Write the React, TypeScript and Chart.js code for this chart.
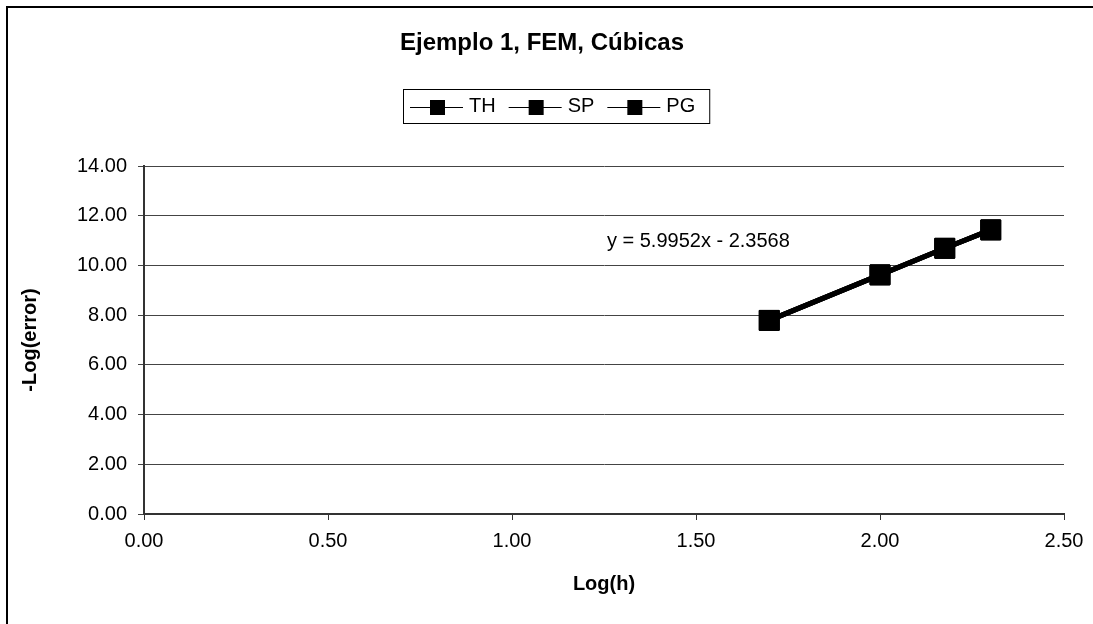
import React, { useEffect, useRef } from "react";
import { Chart, registerables } from "chart.js";

Chart.register(...registerables);

const chartTitle = "Ejemplo 1, FEM, Cúbicas";
const xAxisTitle = "Log(h)";
const yAxisTitle = "-Log(error)";
const seriesNames = ["TH", "SP", "PG"];
const logH = [1.699, 2.0, 2.176, 2.301];
const thValues = [7.79, 9.62, 10.69, 11.43];
const spValues = [7.79, 9.62, 10.69, 11.43];
const pgValues = [7.79, 9.62, 10.69, 11.43];
const xTicks = [0, 0.5, 1.0, 1.5, 2.0, 2.5];
const yTicks = [0, 2, 4, 6, 8, 10, 12, 14];
const trendLabel = "y = 5.9952x - 2.3568";
const trendLabelAt = { x: 1.258, y: 10.98 };

const FONT = "'Liberation Sans', Arial, Helvetica, sans-serif";

const decorPlugin = {
  id: "decor",
  beforeDraw(chart: any) {
    const ctx = chart.ctx;
    ctx.save();
    ctx.fillStyle = "#ffffff";
    ctx.fillRect(0, 0, chart.width, chart.height);
    ctx.strokeStyle = "#000000";
    ctx.lineWidth = 2;
    ctx.strokeRect(7, 7, chart.width + 40, chart.height + 40);
    ctx.restore();
  },
  afterDatasetsDraw(chart: any) {
    const ctx = chart.ctx;
    const xs = chart.scales.x;
    const ys = chart.scales.y;
    ctx.save();
    ctx.fillStyle = "#000";
    ctx.font = `20px ${FONT}`;
    ctx.textAlign = "left";
    ctx.textBaseline = "middle";
    ctx.fillText(trendLabel, xs.getPixelForValue(trendLabelAt.x), ys.getPixelForValue(trendLabelAt.y));
    ctx.restore();
  },
  afterDraw(chart: any) {
    const ctx = chart.ctx;
    ctx.save();
    // title
    ctx.fillStyle = "#000";
    ctx.font = `bold 24px ${FONT}`;
    ctx.textAlign = "center";
    ctx.textBaseline = "middle";
    ctx.fillText(chartTitle, 542, 43);
    // legend
    ctx.font = `20px ${FONT}`;
    ctx.textAlign = "left";
    const top = 89;
    const bottom = 123;
    const cy = (top + bottom) / 2 + 0.5;
    let x = 410;
    const ds = chart.data.datasets.filter((d: any) => d.label);
    ds.forEach((d: any) => {
      ctx.strokeStyle = d.borderColor;
      ctx.lineWidth = 1;
      ctx.beginPath();
      ctx.moveTo(x, Math.round(cy) + 0.5);
      ctx.lineTo(x + 53, Math.round(cy) + 0.5);
      ctx.stroke();
      ctx.fillStyle = d.pointBackgroundColor;
      ctx.fillRect(x + 20, Math.round(cy) - 7, 15, 15);
      ctx.fillStyle = "#000";
      ctx.fillText(d.label, x + 59, cy);
      const w = ctx.measureText(d.label).width;
      x = x + 59 + w + 13;
    });
    ctx.strokeStyle = "#000";
    ctx.lineWidth = 1;
    ctx.strokeRect(403.5, top + 0.5, x + 1 - 403, bottom - top);
    ctx.restore();
  },
};

export default function App() {
  const ref = useRef<HTMLCanvasElement | null>(null);

  useEffect(() => {
    if (!ref.current) return;
    const seriesValues = [thValues, spValues, pgValues];
    const datasets = seriesNames.map((name, i) => ({
      label: name,
      data: logH.map((x, j) => ({ x, y: seriesValues[i][j] })),
      borderColor: "#000000",
      backgroundColor: "#000000",
      borderWidth: 5,
      pointStyle: "rect",
      pointRadius: 14,
      pointBorderWidth: 1,
      pointBackgroundColor: "#000000",
      pointBorderColor: "#000000",
      showLine: true,
      tension: 0,
    }));
    const chart = new Chart(ref.current, {
      type: "line",
      data: { datasets },
      plugins: [decorPlugin],
      options: {
        animation: false,
        responsive: false,
        maintainAspectRatio: false,
        devicePixelRatio: 1,
        layout: { padding: { left: 0, top: 166, right: 29, bottom: 0 } },
        plugins: {
          legend: { display: false },
          title: { display: false },
          tooltip: { enabled: false },
        },
        scales: {
          x: {
            type: "linear",
            min: 0,
            max: 2.5,
            afterBuildTicks: (s: any) => {
              s.ticks = xTicks.map((v) => ({ value: v }));
            },
            afterFit: (s: any) => {
              s.height = 110;
            },
            ticks: {
              color: "#000",
              font: { family: FONT, size: 20 },
              padding: 9,
              maxRotation: 0,
              autoSkip: false,
              callback: (v: any) => Number(v).toFixed(2),
            },
            grid: {
              drawOnChartArea: false,
              drawTicks: true,
              tickLength: 6,
              color: "#333",
            },
            border: { color: "#333", width: 2 },
            title: {
              display: true,
              text: xAxisTitle,
              color: "#000",
              font: { family: FONT, size: 20, weight: "bold" },
              padding: { top: 0, bottom: 28 },
            },
          },
          y: {
            type: "linear",
            min: 0,
            max: 14,
            afterBuildTicks: (s: any) => {
              s.ticks = yTicks.map((v) => ({ value: v }));
            },
            afterFit: (s: any) => {
              s.width = 144;
            },
            ticks: {
              color: "#000",
              font: { family: FONT, size: 20 },
              padding: 11,
              autoSkip: false,
              callback: (v: any) => Number(v).toFixed(2),
            },
            grid: {
              drawOnChartArea: true,
              drawTicks: true,
              tickLength: 6,
              color: "#444",
              lineWidth: 1,
            },
            border: { color: "#333", width: 2 },
            title: {
              display: true,
              text: yAxisTitle,
              color: "#000",
              font: { family: FONT, size: 20, weight: "bold" },
              padding: { top: 18, bottom: 0 },
            },
          },
        },
      },
    } as any);
    return () => chart.destroy();
  }, []);

  return (
    <div style={{ position: "fixed", left: 0, top: 0, width: 1093, height: 624, overflow: "hidden", background: "#fff" }}>
      <canvas ref={ref} width={1093} height={624} style={{ display: "block", width: 1093, height: 624 }} />
    </div>
  );
}
